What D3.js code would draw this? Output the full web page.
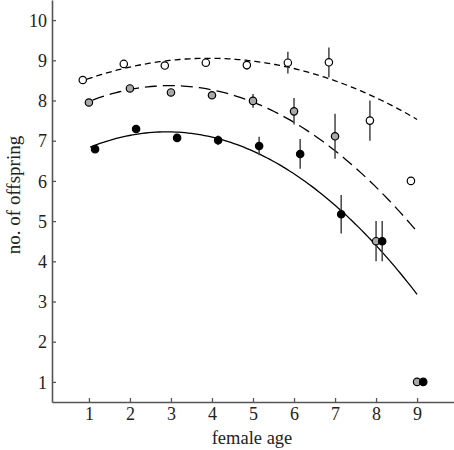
<!DOCTYPE html>
<html>
<head>
<meta charset="utf-8">
<script src="https://cdn.jsdelivr.net/npm/d3@7"></script>
<style>
  html, body { margin: 0; padding: 0; background: #fff; }
  svg { display: block; }
  text { font-family: "Liberation Serif", "Times New Roman", serif; fill: #222; }
</style>
</head>
<body>
<svg id="chart" width="454" height="450"></svg>
<script>
// ---- data ----
const ages = [1, 2, 3, 4, 5, 6, 7, 8, 9];
const xTicks = [1, 2, 3, 4, 5, 6, 7, 8, 9];
const yTicks = [1, 2, 3, 4, 5, 6, 7, 8, 9, 10];

const openMeans  = [8.51, 8.91, 8.87, 8.94, 8.88, 8.94, 8.95, 7.50, 6.00];
const openErr    = [0, 0, 0, 0, 0.11, 0.27, 0.37, 0.50, 0];
const grayMeans  = [7.95, 8.30, 8.20, 8.13, 7.99, 7.73, 7.11, 4.50, 1.00];
const grayErr    = [0, 0, 0, 0, 0.17, 0.33, 0.56, 0.50, 0];
const blackMeans = [6.79, 7.29, 7.07, 7.01, 6.87, 6.67, 5.17, 4.50, 1.00];
const blackErr   = [0, 0, 0, 0.12, 0.23, 0.37, 0.48, 0.50, 0];

// quadratic fits: [vertexX, vertexY, curvature, xStart, xEnd]
const openFit  = [3.92, 9.05, -0.05895, 0.95, 9.00];
const grayFit  = [2.98, 8.37, -0.1002, 1.09, 8.99];
const blackFit = [2.90, 7.22, -0.1086, 1.03, 9.00];

const series = [
  { means: openMeans,  err: openErr,  fit: openFit,  offset: -0.15, fill: "#ffffff", dash: "6,4" },
  { means: grayMeans,  err: grayErr,  fit: grayFit,  offset: 0,     fill: "#a9a9a9", dash: "12,6" },
  { means: blackMeans, err: blackErr, fit: blackFit, offset: 0.15,  fill: "#000000", dash: null }
];

// ---- layout ----
const svg = d3.select("#chart");
const x = d3.scaleLinear().domain([0.1, 9.9]).range([52, 454]);
const y = d3.scaleLinear().domain([0.5, 10.5]).range([402, 0]);
const axisColor = "#555";

// axes
const xAxis = d3.axisBottom(x).tickValues(xTicks).tickSizeInner(-4).tickSizeOuter(0).tickPadding(5);
const yAxis = d3.axisLeft(y).tickValues(yTicks).tickSizeInner(-4).tickSizeOuter(0).tickPadding(5);

const gx = svg.append("g").attr("transform", `translate(0,${y(0.5)})`).call(xAxis);
const gy = svg.append("g").attr("transform", `translate(${x(0.1)},0)`).call(yAxis);
[gx, gy].forEach(g => {
  g.select(".domain").attr("stroke", axisColor).attr("stroke-width", 1.6);
  g.selectAll(".tick line").attr("stroke", axisColor).attr("stroke-width", 1.3);
  g.selectAll(".tick text").style("font-family", "'Liberation Serif', serif").style("font-size", "18px").attr("fill", "#222");
});
gx.selectAll(".tick text").attr("dy", "0.71em");
gy.selectAll(".tick text").attr("dy", "0.34em");

// titles
svg.append("text").attr("x", 252).attr("y", 444).attr("text-anchor", "middle")
  .style("font-size", "18.5px").text("female age");
svg.append("text").attr("transform", "translate(20,195) rotate(-90)").attr("text-anchor", "middle")
  .style("font-size", "19px").text("no. of offspring");

// fitted curves
const line = d3.line().x(d => x(d[0])).y(d => y(d[1]));
series.forEach(s => {
  const [vx, vy, c, x0, x1] = s.fit;
  const pts = d3.range(0, 101).map(i => {
    const xx = x0 + (x1 - x0) * i / 100;
    return [xx, vy + c * (xx - vx) * (xx - vx)];
  });
  svg.append("path").datum(pts).attr("d", line)
    .attr("fill", "none").attr("stroke", "#000").attr("stroke-width", 1.3)
    .attr("stroke-dasharray", s.dash);
});

// error bars
series.forEach(s => {
  svg.append("g").selectAll("line").data(ages.map((a, i) => ({ a, m: s.means[i], e: s.err[i] })).filter(d => d.e > 0))
    .join("line")
    .attr("x1", d => x(d.a + s.offset)).attr("x2", d => x(d.a + s.offset))
    .attr("y1", d => y(d.m - d.e)).attr("y2", d => y(d.m + d.e))
    .attr("stroke", "#444").attr("stroke-width", 1.5);
});

// points
series.forEach(s => {
  svg.append("g").selectAll("circle").data(ages.map((a, i) => ({ a, m: s.means[i] })))
    .join("circle")
    .attr("cx", d => x(d.a + s.offset)).attr("cy", d => y(d.m)).attr("r", 3.7)
    .attr("fill", s.fill).attr("stroke", "#000").attr("stroke-width", 1.2);
});
</script>
</body>
</html>
